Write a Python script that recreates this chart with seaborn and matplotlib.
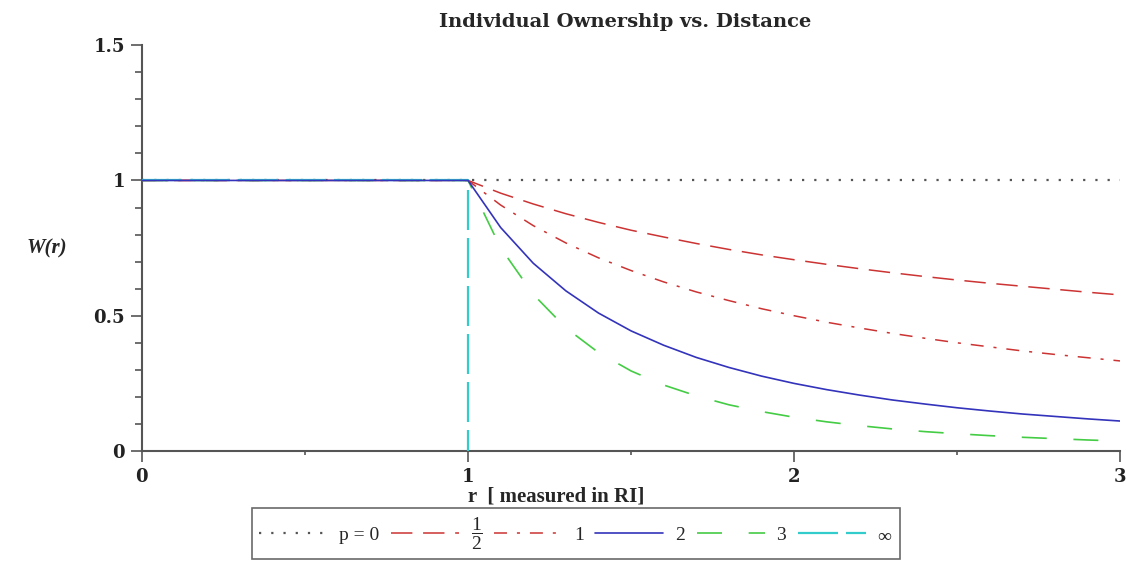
import matplotlib
matplotlib.use("Agg")
import matplotlib.pyplot as plt
import numpy as np
import pandas as pd
import seaborn as sns
from matplotlib.ticker import MultipleLocator

# r values (in RI units) and W(r), one list per exponent p
r_vals = [0.0, 1.0, 1.1, 1.2, 1.3, 1.4, 1.5, 1.6, 1.7, 1.8, 1.9, 2.0,
          2.1, 2.2, 2.3, 2.4, 2.5, 2.6, 2.7, 2.8, 2.9, 3.0]
w_p0 = [1.0] * len(r_vals)
w_p_half = [1.0, 1.0, 0.953, 0.913, 0.877, 0.845, 0.816, 0.791, 0.767, 0.745, 0.725,
            0.707, 0.690, 0.674, 0.659, 0.645, 0.632, 0.620, 0.609, 0.598, 0.587, 0.577]
w_p1 = [1.0, 1.0, 0.909, 0.833, 0.769, 0.714, 0.667, 0.625, 0.588, 0.556, 0.526,
        0.500, 0.476, 0.455, 0.435, 0.417, 0.400, 0.385, 0.370, 0.357, 0.345, 0.333]
w_p2 = [1.0, 1.0, 0.826, 0.694, 0.592, 0.510, 0.444, 0.391, 0.346, 0.309, 0.277,
        0.250, 0.227, 0.207, 0.189, 0.174, 0.160, 0.148, 0.137, 0.128, 0.119, 0.111]
w_p3 = [1.0, 1.0, 0.751, 0.579, 0.455, 0.364, 0.296, 0.244, 0.204, 0.171, 0.146,
        0.125, 0.108, 0.094, 0.082, 0.072, 0.064, 0.057, 0.051, 0.046, 0.041, 0.037]
# p -> infinity: step down at r = 1
r_inf = [0.0, 1.0, 1.0]
w_inf = [1.0, 1.0, 0.0]

labels = ["p = 0", r"$\dfrac{1}{2}$", "1", "2", "3", r"$\infty$"]

sns.set_style("ticks")
plt.rcParams["font.family"] = ["Liberation Serif", "DejaVu Serif"]
plt.rcParams["mathtext.fontset"] = "custom"
plt.rcParams["mathtext.rm"] = "Liberation Serif"
plt.rcParams["mathtext.it"] = "Liberation Serif:italic"

fig = plt.figure(figsize=(11.26, 5.71), dpi=100)
ax = fig.add_axes([0.126, 0.21, 0.869, 0.711])

# (values, colour, dash pattern, width, z-order)
styles = [
    (w_p0, "#555555", (0, (1, 4.5)), 1.6, 2),
    (w_p_half, "#cc3333", (0, (14, 7)), 1.1, 3),
    (w_p1, "#cc3333", (0, (8.5, 6.5, 2, 6.5)), 1.1, 3),
    (w_p2, "#3333bb", "-", 1.2, 5),
    (w_p3, "#44cc44", (0, (15, 16)), 1.2, 3),
]
handles = []
for (w, color, ls, lw, z), lab in zip(styles, labels[:5]):
    sns.lineplot(x=r_vals, y=w, ax=ax, color=color, linestyle=ls, linewidth=lw,
                 sort=False, estimator=None, zorder=z)
    handles.append(ax.lines[-1])
sns.lineplot(x=r_inf, y=w_inf, ax=ax, color="#33cccc", linestyle=(0, (18, 3.6)),
             linewidth=1.6, sort=False, estimator=None, zorder=4)
handles.append(ax.lines[-1])

ax.set_xlim(0, 3)
ax.set_ylim(0, 1.5)
ax.set_xticks([0, 1, 2, 3])
ax.set_yticks([0, 0.5, 1, 1.5])
ax.set_yticklabels(["0", "0.5", "1", "1.5"])
ax.xaxis.set_minor_locator(MultipleLocator(0.5))
ax.yaxis.set_minor_locator(MultipleLocator(0.1))
ax.tick_params(axis="both", which="major", length=8, width=1.2, color="#555555",
               labelsize=13, pad=4)
ax.tick_params(axis="x", which="minor", length=3, width=1.2, color="#555555")
ax.tick_params(axis="y", which="minor", length=5, width=1.2, color="#555555")
for t in ax.get_xticklabels() + ax.get_yticklabels():
    t.set_fontweight("bold")
    t.set_fontfamily("DejaVu Serif")
    t.set_color("#222222")
for s in ["top", "right"]:
    ax.spines[s].set_visible(False)
for s in ["left", "bottom"]:
    ax.spines[s].set_color("#555555")
    ax.spines[s].set_linewidth(1.5)

ax.set_title("Individual Ownership vs. Distance", fontsize=14, fontweight="bold",
             family="DejaVu Serif", pad=13, x=0.494)
ax.set_xlabel("r  [ measured in RI]", fontsize=15, fontweight="bold")
ax.xaxis.set_label_coords(0.423, -0.088)
ax.set_ylabel("W(r)", fontsize=15, fontweight="bold", style="italic", rotation=0)
ax.yaxis.set_label_coords(-0.097, 0.475)

leg = fig.legend(handles, labels, loc="lower center", bbox_to_anchor=(0.5115, 0.004),
                 ncol=6, frameon=True, fancybox=False, edgecolor="#444444",
                 fontsize=14, handlelength=3.5, columnspacing=0.6, handletextpad=0.6,
                 borderpad=0.38)
leg.get_frame().set_linewidth(1.2)

fig.savefig("out.png", dpi=100)
